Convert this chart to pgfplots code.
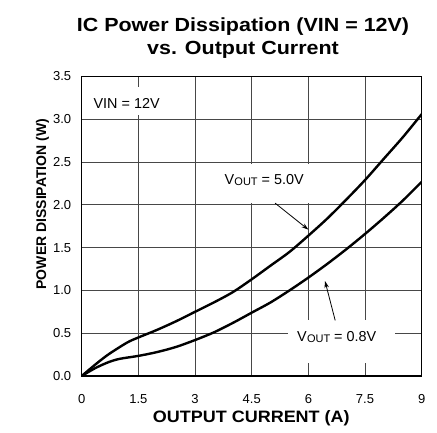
\documentclass[border=0pt]{standalone}
\usepackage{fontspec}
\setmainfont{Liberation Sans}
\usepackage{pgfplots}
\pgfplotsset{compat=1.18}
\usetikzlibrary{arrows.meta}
\newcommand{\vout}{V\kern0.3pt{\fontsize{11}{11}\selectfont\raisebox{-1pt}{OUT}}}
\pgfplotstableread{
x y
0 0
0.35 0.13
0.7 0.25
1.2 0.39
1.5 0.45
2 0.54
2.5 0.64
3 0.75
3.5 0.86
4 0.98
4.5 1.13
5 1.29
5.5 1.45
6 1.64
6.5 1.84
7 2.06
7.5 2.29
8 2.54
8.5 2.79
9 3.06
}\fivev
\pgfplotstableread{
x y
0 0
0.35 0.09
0.7 0.16
1 0.2
1.5 0.235
2 0.28
2.5 0.34
3 0.42
3.5 0.51
4 0.62
4.5 0.74
5 0.86
5.5 1.0
6 1.15
6.5 1.31
7 1.48
7.5 1.66
8 1.85
8.5 2.05
9 2.27
}\eightv
\begin{document}
\begin{tikzpicture}
\path[use as bounding box] (-81.7pt,-57pt) rectangle (355.3pt,376pt);
\begin{axis}[
  at={(0pt,0pt)}, anchor=south west,
  scale only axis, width=340pt, height=299.5pt,
  xmin=0, xmax=9, ymin=0, ymax=3.5,
  xtick={0,1.5,3,4.5,6,7.5,9},
  ytick={0,0.5,1,1.5,2,2.5,3,3.5},
  xticklabels={0,1.5,3,4.5,6,7.5,9},
  yticklabels={0.0,0.5,1.0,1.5,2.0,2.5,3.0,3.5},
  tick style={draw=none},
  major tick length=0pt,
  grid=major,
  grid style={line width=1pt, black!72},
  axis line style={line width=1.3pt, black},
  tick label style={font=\fontsize{13}{13}\selectfont},
  yticklabel style={anchor=east, xshift=-7pt},
  xticklabel style={anchor=base, yshift=-27.7pt},
  ylabel={POWER DISSIPATION (W)},
  ylabel style={font={\bfseries\fontsize{14}{14}\selectfont}, at={(axis description cs:-0.105,0.574)}, anchor=base, rotate=0},
]
\fill[white] (axis cs:0.17,3.05) rectangle (axis cs:2.23,3.38);
\fill[white] (axis cs:3.55,2.02) rectangle (axis cs:6.2,2.48);
\fill[white] (axis cs:5.46,0.152) rectangle (axis cs:8.29,0.654);
\addplot[line width=2.4pt, black, smooth, tension=0.5] table[x=x,y=y] {\fivev};
\addplot[line width=2.4pt, black, smooth, tension=0.5] table[x=x,y=y] {\eightv};
\node[anchor=west, inner sep=0pt, font=\fontsize{14.4}{16}\selectfont] at (axis cs:0.31,3.19) {VIN = 12V};
\node[inner sep=0pt, font=\fontsize{14.4}{16}\selectfont] at (axis cs:4.83,2.29) {\vout\ = 5.0V};
\node[inner sep=0pt, font=\fontsize{14.4}{16}\selectfont] at (axis cs:6.75,0.46) {\vout\ = 0.8V};
\draw[line width=0.8pt, -{Stealth[length=7pt,width=4.5pt]}] (axis cs:5.12,2.02) -- (axis cs:6.0,1.71);
\draw[line width=0.8pt, -{Stealth[length=7pt,width=4.5pt]}] (axis cs:6.71,0.65) -- (axis cs:6.44,1.11);
\end{axis}
\node[anchor=base, transform shape, xscale=1.13, font={\bfseries\fontsize{19}{19}\selectfont}] at (161.3pt,344pt) {IC Power Dissipation (VIN = 12V)};
\node[anchor=base, transform shape, xscale=1.13, font={\bfseries\fontsize{19}{19}\selectfont}] at (161.3pt,321.5pt) {vs. Output Current};
\node[anchor=base, transform shape, xscale=1.09, font={\bfseries\fontsize{16.5}{16.5}\selectfont}] at (169.6pt,-47pt) {OUTPUT CURRENT (A)};
\end{tikzpicture}
\end{document}
